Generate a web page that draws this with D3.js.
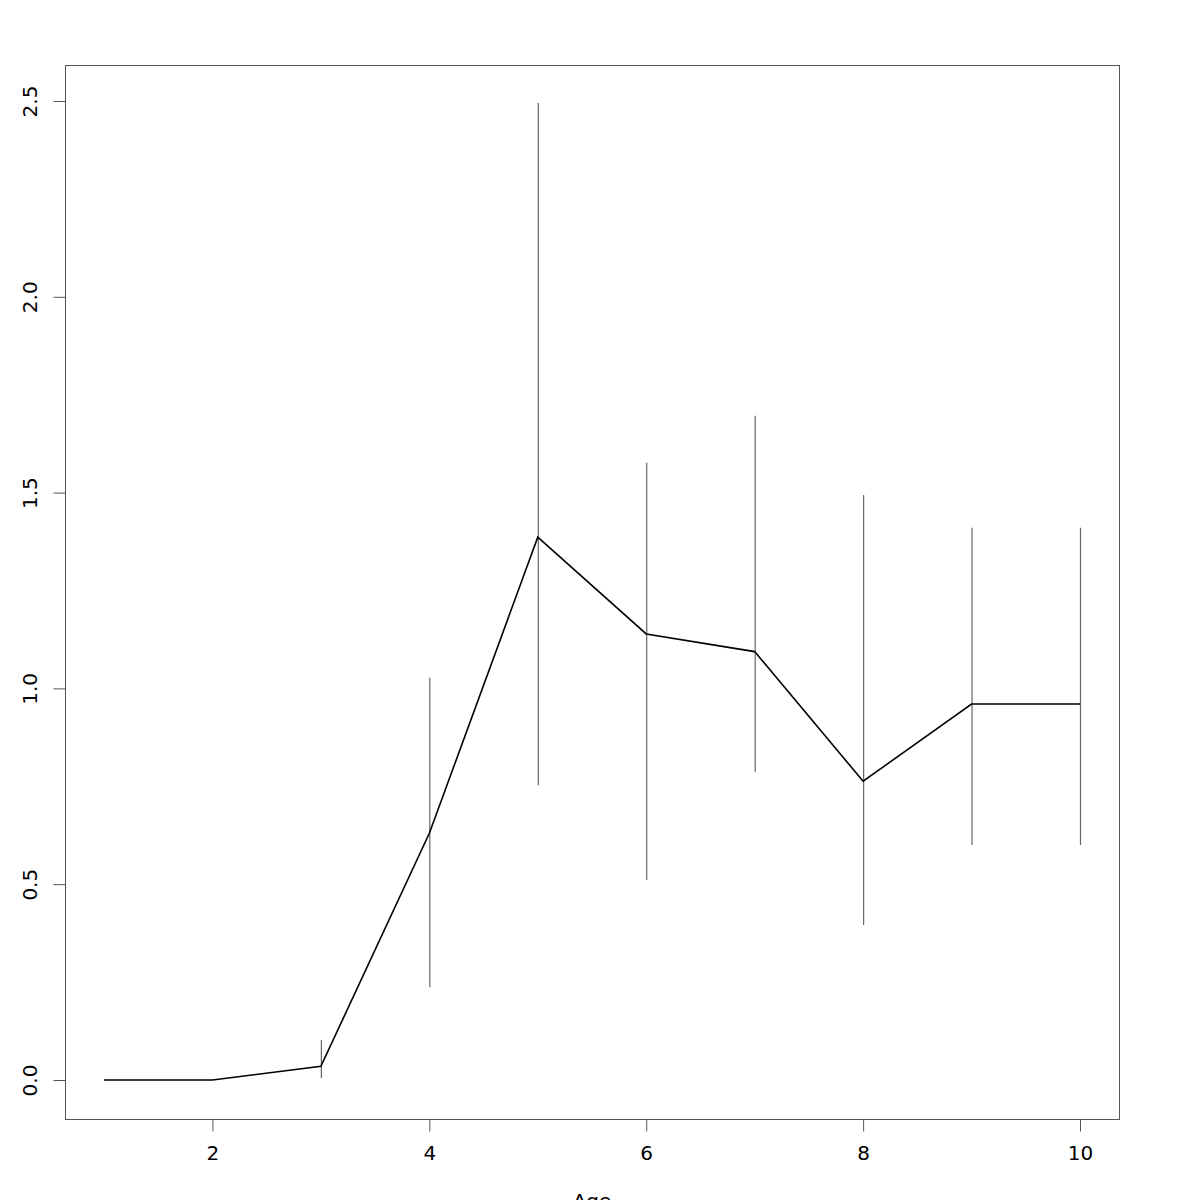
<!DOCTYPE html>
<html><head><meta charset="utf-8">
<script src="https://cdn.jsdelivr.net/npm/d3@7"></script>
<style>body{margin:0;background:#fff}svg{display:block}</style>
</head><body>
<script>
const ages = [1,2,3,4,5,6,7,8,9,10];
const means = [0,0,0.035,0.63,1.386,1.139,1.094,0.763,0.960,0.960];
const lower = [0,0,0.005,0.237,0.753,0.511,0.787,0.396,0.600,0.600];
const upper = [0,0,0.102,1.027,2.495,1.576,1.696,1.494,1.410,1.410];
const xTicks = [2,4,6,8,10];
const yTicks = [0,0.5,1,1.5,2,2.5];
const xLabel = "Age";

const W=1200,H=1200;
const svg=d3.select("body").append("svg").attr("width",W).attr("height",H);
const x=d3.scaleLinear().domain([1,10]).range([104,1080]);
const y=d3.scaleLinear().domain([0,2.5]).range([1080,101]);
const font="DejaVu Sans, sans-serif";
const fs=20;

// error bars
svg.append("g").selectAll("line").data(ages.map((a,i)=>({a,lo:lower[i],hi:upper[i]})).filter(d=>d.hi>d.lo))
 .join("line").attr("x1",d=>x(d.a)+0.5).attr("x2",d=>x(d.a)+0.5)
 .attr("y1",d=>y(d.lo)).attr("y2",d=>y(d.hi)).attr("stroke","#666").attr("stroke-width",1.2);

// line
svg.append("path").datum(ages.map((a,i)=>[a,means[i]]))
 .attr("d",d3.line().x(d=>x(d[0])).y(d=>y(d[1])))
 .attr("fill","none").attr("stroke","#000").attr("stroke-width",1.6);

// frame
svg.append("rect").attr("x",65.5).attr("y",65.5).attr("width",1054).attr("height",1054)
 .attr("fill","none").attr("stroke","#555").attr("stroke-width",1);

// x axis
const xa=svg.append("g").attr("transform","translate(0,1119.5)")
 .call(d3.axisBottom(x).tickValues(xTicks).tickSize(12).tickPadding(14).tickFormat(d3.format("d")));
xa.select(".domain").attr("d",`M${x(2)},0H${x(10)}`).attr("stroke","#555");
xa.selectAll(".tick line").attr("stroke","#555");
xa.selectAll("text").attr("font-family",font).attr("font-size",fs).attr("fill","#000");

// y axis
const ya=svg.append("g").attr("transform","translate(65.5,0)")
 .call(d3.axisLeft(y).tickValues(yTicks).tickSize(12).tickFormat(d3.format(".1f")));
ya.select(".domain").attr("d",`M0,${y(0)}V${y(2.5)}`).attr("stroke","#555");
ya.selectAll(".tick line").attr("stroke","#555");
ya.selectAll("text").attr("font-family",font).attr("font-size",fs).attr("fill","#000")
 .attr("x",0).attr("dy",0).attr("text-anchor","middle")
 .attr("transform","translate(-36,0) rotate(-90)").attr("dominant-baseline","central");

svg.append("text").attr("x",x(5.5)).attr("y",1208).attr("text-anchor","middle")
 .attr("font-family",font).attr("font-size",fs).text(xLabel);
</script>
</body></html>
